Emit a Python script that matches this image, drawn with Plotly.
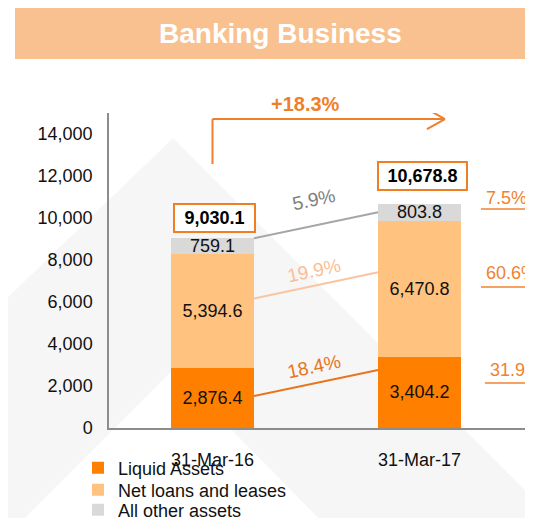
import plotly.graph_objects as go

# ---------------- data ----------------
categories = ["31-Mar-16", "31-Mar-17"]
liquid_assets = [2876.4, 3404.2]
net_loans = [5394.6, 6470.8]
other_assets = [759.1, 803.8]
series_names = ["Liquid Assets", "Net loans and leases", "All other assets"]
growth_labels = ["18.4%", "19.9%", "5.9%"]      # liquid, loans, other
share_labels = ["31.9%", "60.6%", "7.5%"]       # shares in 31-Mar-17
total_growth_label = "+18.3%"
y_ticks = [0, 2000, 4000, 6000, 8000, 10000, 12000, 14000]

totals = [a + b + c for a, b, c in zip(liquid_assets, net_loans, other_assets)]

# ---------------- style ----------------
OFF = 8                     # page body margin
W, H = 533 - OFF, 518 - OFF
L, T = 109 - OFF, 113 - OFF
B = H - (428 - OFF)
R = 0
PW, PH = W - L - R, H - T - B
YMAX = 15000
CAT_PX = 207.0
XMAX = -0.5 + PW / CAT_PX
FONT = "Arial, Liberation Sans, sans-serif"
C_DARK = "#FF8000"
C_LIGHT = "#FFC27F"
C_GRAY = "#D9D9D9"
C_ORANGE_TXT = "#F0822E"
C_LINE_DARK = "#E8741C"
C_LINE_LIGHT = "#FAC4A0"
C_LINE_GRAY = "#A6A6A6"

def pxx(p):  # screenshot pixel -> paper x
    return (p - OFF - L) / PW

def pxy(p):  # screenshot pixel -> paper y
    return (H - B - (p - OFF)) / PH

def ypx(dy):  # pixel offset -> data units
    return dy * YMAX / PH

fig = go.Figure()
colors = [C_DARK, C_LIGHT, C_GRAY]
legend_ids = ["legend", "legend2", "legend3"]
for name, vals, col, lg in zip(series_names, [liquid_assets, net_loans, other_assets], colors, legend_ids):
    fig.add_trace(go.Bar(
        x=categories, y=vals, name=name, marker=dict(color=col, line=dict(width=0)),
        width=0.4, text=[f"{v:,.1f}" for v in vals], textposition="inside",
        insidetextanchor="middle", textangle=0, constraintext="none", legend=lg,
        showlegend=True, textfont=dict(family=FONT, size=18, color="#111111"),
    ))

shapes = []
annotations = []

# watermark chevron
wm = [(173, 138), (541, 506), (541, 526), (326, 526), (173, 370), (17, 526), (0, 526), (0, 305)]
path = "M " + " L ".join(f"{pxx(x):.4f},{pxy(y):.4f}" for x, y in wm) + " Z"
shapes.append(dict(type="path", xref="paper", yref="paper", path=path,
                   fillcolor="#F6F6F6", line=dict(width=0), layer="below"))

# title banner
shapes.append(dict(type="rect", xref="paper", yref="paper", x0=pxx(15), x1=pxx(540),
                   y0=pxy(59), y1=pxy(0), fillcolor="#F9C18F", line=dict(width=0), layer="below"))
annotations.append(dict(xref="paper", yref="paper", x=pxx(280), y=pxy(33), text="<b>Banking Business</b>",
                        showarrow=False, font=dict(family=FONT, size=28, color="white"),
                        xanchor="center", yanchor="middle"))

# connector lines between bars (anchor fractions of each segment)
x_a, x_b = 0.2, 0.8
lo1 = liquid_assets
lo2 = [a + b for a, b in zip(liquid_assets, net_loans)]
conn = [
    (0.53 * liquid_assets[0], 0.81 * liquid_assets[1], C_LINE_DARK),
    (lo1[0] + 0.61 * net_loans[0], lo1[1] + 0.62 * net_loans[1], C_LINE_LIGHT),
    (totals[0], lo2[1] + 0.5 * other_assets[1], C_LINE_GRAY),
]
label_shift = [17, 15, 26]
label_col = [C_LINE_DARK, "#F9BF98", "#808080"]
for (y0, y1, col), lab, sh, lc in zip(conn, growth_labels, label_shift, label_col):
    shapes.append(dict(type="line", xref="x", yref="y", x0=x_a, x1=x_b, y0=y0, y1=y1,
                       line=dict(color=col, width=2)))
    annotations.append(dict(xref="x", yref="y", x=0.49, y=(y0 + y1) / 2, yshift=sh, text=lab,
                            showarrow=False, textangle=-12,
                            font=dict(family=FONT, size=19, color=lc)))

# right-side share labels with underlines
share_y = [2760, 7380, 10950]
under_y = [2143, 6714, 10429]
share_x = [1.33, 1.311, 1.311]
under_x0 = [1.316, 1.297, 1.297]
for lab, sy, uy, sx, ux in zip(share_labels, share_y, under_y, share_x, under_x0):
    annotations.append(dict(xref="x", yref="y", x=sx, y=sy, text=lab, showarrow=False,
                            xanchor="left", yanchor="middle",
                            font=dict(family=FONT, size=18, color=C_ORANGE_TXT)))
    shapes.append(dict(type="line", xref="x", yref="y", x0=ux, x1=XMAX, y0=uy, y1=uy,
                       line=dict(color=C_ORANGE_TXT, width=1.5)))

# total boxes
box_gap = [5, 13]
box_w = [77, 85]
box_xs = [2, 3]
for i, tot in enumerate(totals):
    annotations.append(dict(xref="x", yref="y", x=i, y=tot, yshift=box_gap[i], xshift=box_xs[i],
                            text=f"<b>{tot:,.1f}</b>", showarrow=False, yanchor="bottom",
                            width=box_w[i], height=24, align="center", borderpad=1,
                            bordercolor="#F07F24", borderwidth=2, bgcolor="white",
                            font=dict(family=FONT, size=18, color="#000000")))

# growth arrow
ax0, ax1 = 0.0, 1.123
ay0, ay1 = 12571, 14714
acol = "#F07F2C"
shapes.append(dict(type="line", xref="x", yref="y", x0=ax0, x1=ax0, y0=ay0, y1=ay1,
                   line=dict(color=acol, width=2)))
shapes.append(dict(type="line", xref="x", yref="y", x0=ax0, x1=ax1, y0=ay1, y1=ay1,
                   line=dict(color=acol, width=2)))
for d in (+1, -1):
    shapes.append(dict(type="line", xref="x", yref="y", x0=ax1 - 0.087, x1=ax1,
                       y0=ay1 + d * ypx(10), y1=ay1, line=dict(color=acol, width=2)))
annotations.append(dict(xref="x", yref="y", x=0.45, y=ay1, yshift=15, text=f"<b>{total_growth_label}</b>",
                        showarrow=False, font=dict(family=FONT, size=20, color=acol)))

legend_rows = [468, 490, 510]
leg_common = dict(xanchor="left", yanchor="middle", orientation="v", bgcolor="rgba(0,0,0,0)",
                  font=dict(family=FONT, size=18, color="#111111"), itemwidth=30,
                  borderwidth=0)

fig.update_layout(
    width=W, height=H, margin=dict(l=L, r=R, t=T, b=B, pad=0, autoexpand=False),
    barmode="stack", bargap=0.6, showlegend=True,
    paper_bgcolor="white", plot_bgcolor="rgba(0,0,0,0)",
    font=dict(family=FONT, size=18, color="#222222"),
    shapes=shapes, annotations=annotations,
    legend=dict(x=pxx(78), y=pxy(legend_rows[0]), **leg_common),
    legend2=dict(x=pxx(78), y=pxy(legend_rows[1]), **leg_common),
    legend3=dict(x=pxx(78), y=pxy(legend_rows[2]), **leg_common),
    xaxis=dict(range=[-0.5, XMAX], showline=True, linecolor="#8C8C8C", linewidth=2,
               ticks="", showgrid=False, zeroline=False, ticklabelstandoff=14,
               tickfont=dict(family=FONT, size=18, color="#111111")),
    yaxis=dict(range=[0, YMAX], tickvals=y_ticks, tickformat=",d", showline=True,
               linecolor="#8C8C8C", linewidth=1.5, ticks="", showgrid=False, zeroline=False,
               ticklabelstandoff=11, tickfont=dict(family=FONT, size=18, color="#111111")),
)

fig.write_html("out.html")
